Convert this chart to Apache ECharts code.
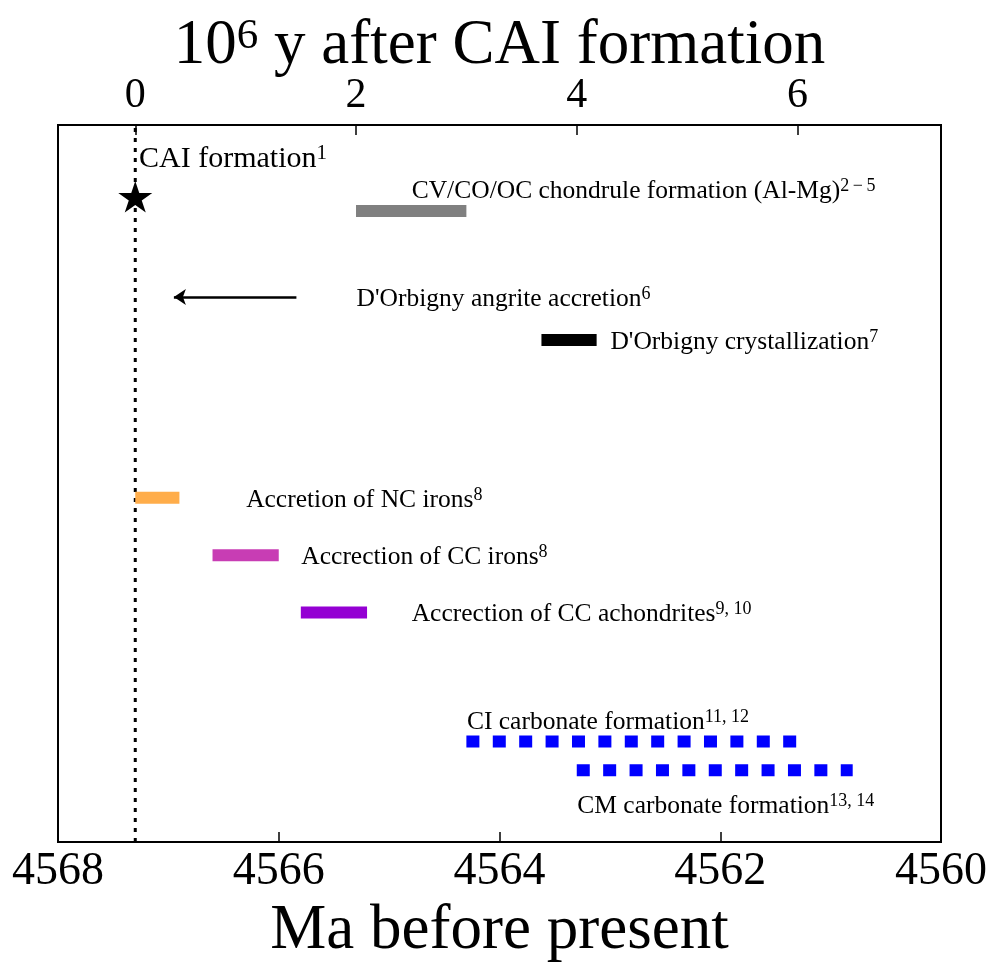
<!DOCTYPE html>
<html>
<head>
<meta charset="utf-8">
<title>Early Solar System timeline</title>
<script src="https://cdn.jsdelivr.net/npm/echarts@6/dist/echarts.min.js"></script>
<style>
  html, body { margin: 0; padding: 0; background: #fff; }
  #chart { width: 990px; height: 964px; }
</style>
</head>
<body>
<div id="chart"></div>
<script>
// Absolute ages (Ma before present) and row heights (0 = bottom, 1 = top of frame)
const caiAge = 4567.3;
const starRow = 0.9;

// Solid age ranges
const bandNames = ['CV/CO/OC chondrules', "D'Orbigny crystallization", 'NC irons', 'CC irons', 'CC achondrites'];
const bandStart = [4565.3, 4563.62, 4567.3, 4566.6, 4565.8];
const bandEnd   = [4564.3, 4563.12, 4566.9, 4566.0, 4565.2];
const bandRow   = [0.88, 0.70, 0.48, 0.40, 0.32];

// Carbonate formation ranges (dotted)
const carbNames = ['CI carbonates', 'CM carbonates'];
const carbStart = [4564.3, 4563.3];
const carbEnd   = [4561.3, 4560.8];
const carbRow   = [0.14, 0.10];

// Upper limit on D'Orbigny accretion
const arrowFrom = 4565.84;
const arrowTo   = 4566.95;
const arrowRow  = 0.76;

// Annotations: text, superscript, anchor (left edge) and row
const noteText = ['CAI formation', 'CV/CO/OC chondrule formation (Al-Mg)', "D'Orbigny angrite accretion",
  "D'Orbigny crystallization", 'Accretion of NC irons', 'Accrection of CC irons',
  'Accrection of CC achondrites', 'CI carbonate formation', 'CM carbonate formation'];
const noteSup = ['1', '2\u2009\u2212\u20095', '6', '7', '8', '8', '9, 10', '11, 12', '13, 14'];
const noteX = [4567.27, 4564.8, 4565.3, 4563.0, 4566.3, 4565.8, 4564.8, 4564.3, 4563.3];
const noteY = [0.952, 0.907, 0.757, 0.697, 0.477, 0.397, 0.317, 0.167, 0.05];

// Axis ticks
const maTicks = [4568, 4566, 4564, 4562, 4560];
const afterCaiTicks = [0, 2, 4, 6];

const FONT = '"Liberation Serif", "DejaVu Serif", "Times New Roman", serif';
const bandColors = ['#808080', '#000000', '#FFAD4A', '#C83DB4', '#9400D3'];
const carbColor = '#0000FF';

const chart = echarts.init(document.getElementById('chart'), null, { renderer: 'canvas' });

const series = [];

// Dotted vertical line marking CAI formation
series.push({
  type: 'line', xAxisIndex: 0, yAxisIndex: 0, silent: true,
  showSymbol: false, symbol: 'none', z: 2,
  data: [[caiAge, 0], [caiAge, 1]],
  lineStyle: { color: '#000', width: 3, type: [4, 6], cap: 'butt' }
});

// Solid bars
bandNames.forEach((name, i) => {
  series.push({
    name, type: 'line', xAxisIndex: 0, yAxisIndex: 0, silent: true,
    showSymbol: false, symbol: 'none', z: 3,
    data: [[bandStart[i], bandRow[i]], [bandEnd[i], bandRow[i]]],
    lineStyle: { color: bandColors[i], width: 12, cap: 'butt' }
  });
});

// Dotted carbonate bars
carbNames.forEach((name, i) => {
  series.push({
    name, type: 'line', xAxisIndex: 0, yAxisIndex: 0, silent: true,
    showSymbol: false, symbol: 'none', z: 3,
    data: [[carbStart[i], carbRow[i]], [carbEnd[i], carbRow[i]]],
    lineStyle: { color: carbColor, width: 12, type: [13, 13.4], cap: 'butt' }
  });
});

// Arrow for D'Orbigny accretion
series.push({
  type: 'lines', coordinateSystem: 'cartesian2d', xAxisIndex: 0, yAxisIndex: 0,
  silent: true, z: 3,
  symbol: ['none', 'arrow'], symbolSize: [11, 12],
  lineStyle: { color: '#000', width: 2.5, opacity: 1, curveness: 0 },
  data: [{ coords: [[arrowFrom, arrowRow], [arrowTo, arrowRow]] }]
});

// Star for CAI formation
series.push({
  type: 'scatter', xAxisIndex: 0, yAxisIndex: 0, silent: true, z: 5,
  symbol: 'path://M0,-1L0.2245,-0.309L0.951,-0.309L0.363,0.118L0.588,0.809L0,0.382L-0.588,0.809L-0.363,0.118L-0.951,-0.309L-0.2245,-0.309Z',
  symbolKeepAspect: true,
  symbolSize: [34, 33],
  itemStyle: { color: '#000', opacity: 1 },
  data: [[caiAge, starRow]]
});

// Text annotations
series.push({
  type: 'scatter', xAxisIndex: 0, yAxisIndex: 0, silent: true, z: 6,
  symbolSize: 1,
  itemStyle: { color: 'rgba(0,0,0,0)', opacity: 1 },
  data: noteText.map((t, i) => [noteX[i], noteY[i]]),
  label: {
    show: true, position: 'right', distance: 0, color: '#000', opacity: 1,
    formatter: p => {
      const i = p.dataIndex;
      const key = i === 0 ? 'big' : 'm';
      return '{' + key + '|' + noteText[i] + '}{' + (i === 0 ? 'bs' : 's') + '|' + noteSup[i] + '}';
    },
    rich: {
      m:  { fontFamily: FONT, fontSize: 25.5, color: '#000', lineHeight: 28 },
      s:  { fontFamily: FONT, fontSize: 18, color: '#000', lineHeight: 14, verticalAlign: 'top' },
      big:{ fontFamily: FONT, fontSize: 30, color: '#000', lineHeight: 32 },
      bs: { fontFamily: FONT, fontSize: 21, color: '#000', lineHeight: 16, verticalAlign: 'top' }
    }
  }
});

const option = {
  animation: false,
  backgroundColor: '#fff',
  textStyle: { fontFamily: FONT },
  grid: {
    left: 58, right: 49, top: 125, bottom: 122,
    outerBoundsMode: 'none', containLabel: false,
    show: true, borderColor: '#000', borderWidth: 2, backgroundColor: 'transparent'
  },
  xAxis: [
    {
      type: 'value', position: 'bottom', inverse: true,
      min: maTicks[maTicks.length - 1], max: maTicks[0], interval: 2,
      name: 'Ma before present', nameLocation: 'middle', nameGap: 58, nameMoveOverlap: false,
      nameTextStyle: { fontFamily: FONT, fontSize: 63, color: '#000' },
      axisLine: { show: false },
      axisTick: { show: true, inside: true, length: 10, lineStyle: { color: '#000', width: 1.5 } },
      axisLabel: {
        fontFamily: FONT, fontSize: 46, color: '#000', margin: 7,
        showMinLabel: true, showMaxLabel: true, formatter: v => String(v)
      },
      splitLine: { show: false }
    },
    {
      type: 'value', position: 'top',
      min: -(maTicks[0] - caiAge), max: caiAge - maTicks[maTicks.length - 1],
      name: '10{sup|6} y after CAI formation', nameLocation: 'middle', nameGap: 47, nameMoveOverlap: false,
      nameTextStyle: {
        fontFamily: FONT, fontSize: 63, color: '#000',
        rich: {
          sup: { fontFamily: FONT, fontSize: 43, color: '#000', lineHeight: 30, verticalAlign: 'top' }
        }
      },
      axisLine: { show: false },
      axisTick: { show: true, inside: true, length: 10, customValues: afterCaiTicks, lineStyle: { color: '#000', width: 1.5 } },
      axisLabel: { fontFamily: FONT, fontSize: 42, color: '#000', margin: 8, customValues: afterCaiTicks },
      splitLine: { show: false }
    }
  ],
  yAxis: {
    type: 'value', min: 0, max: 1, show: false, splitLine: { show: false }
  },
  series
};

chart.setOption(option);
</script>
</body>
</html>
